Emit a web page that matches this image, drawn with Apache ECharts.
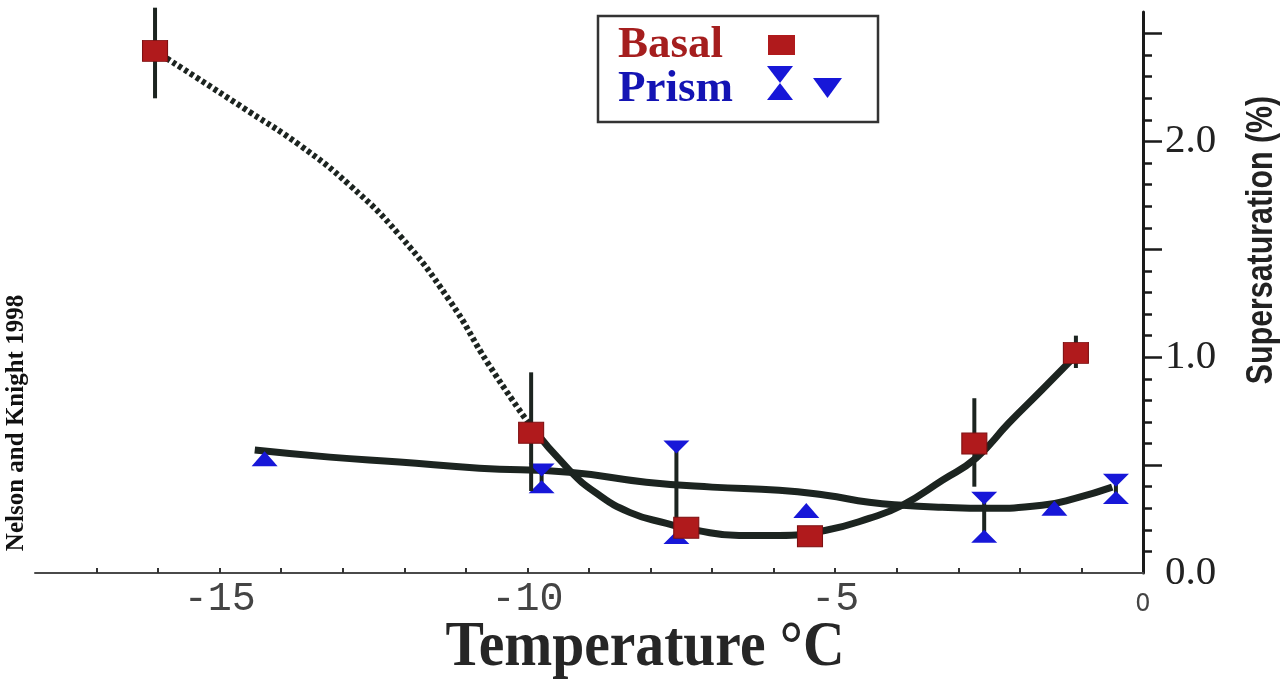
<!DOCTYPE html>
<html>
<head>
<meta charset="UTF-8">
<title>Supersaturation vs Temperature</title>
<script src="https://cdn.jsdelivr.net/npm/echarts@6/dist/echarts.min.js"></script>
</head>
<body style="margin:0;background:#fff;">
<div id="container" style="width:1285px;height:681px;"></div>
<script>
// Basal face: measured points, error bars (null = no bar)
var basalX = [-16.05, -9.94, -7.42, -5.41, -2.74, -1.09];
var basalY = [2.42, 0.65, 0.21, 0.17, 0.60, 1.02];
var basalLow = [2.20, 0.38, null, null, 0.40, 0.95];
var basalHigh = [2.62, 0.93, null, null, 0.81, 1.10];

// Prism face: single points (up triangles)
var prismX = [-14.27, -5.47, -1.44];
var prismY = [0.53, 0.29, 0.30];
// Prism face: ranges (down triangle on top, up triangle below)
var prismRangeX = [-9.77, -7.58, -2.58, -0.44];
var prismRangeLow = [0.40, 0.165, 0.17, 0.35];
var prismRangeHigh = [0.477, 0.584, 0.347, 0.43];

// hand fitted curves
var basalDashX = [-16.05, -14.51, -13.70, -12.89, -12.08, -11.27, -10.62, -9.97];
var basalDashY = [2.42, 2.136, 1.983, 1.798, 1.566, 1.265, 0.962, 0.69];
var basalFitX = [-9.97, -9.32, -8.88, -8.34, -7.74, -7.26, -6.56, -5.91, -5.15, -4.45, -3.91, -3.26, -2.71, -2.18, -1.64, -1.05];
var basalFitY = [0.69, 0.477, 0.370, 0.281, 0.230, 0.198, 0.174, 0.174, 0.198, 0.253, 0.314, 0.430, 0.533, 0.695, 0.849, 1.02];
var prismFitX = [-14.43, -13.21, -12.08, -10.78, -9.32, -8.07, -7.00, -5.91, -5.15, -4.45, -3.91, -3.26, -2.55, -1.64, -1.09, -0.50];
var prismFitY = [0.570, 0.537, 0.514, 0.486, 0.467, 0.421, 0.398, 0.384, 0.360, 0.328, 0.314, 0.305, 0.300, 0.314, 0.347, 0.398];

// axis ticks
var xMinorTicks = [-17, -16, -15, -14, -13, -12, -11, -10, -9, -8, -7, -6, -5, -4, -3, -2, -1];
var xLabels = [-15, -10, -5, 0];
var yMinorTicks = [0.1, 0.2, 0.3, 0.4, 0.6, 0.7, 0.8, 0.9, 1.1, 1.2, 1.3, 1.4, 1.6, 1.7, 1.8, 1.9, 2.1, 2.2, 2.3, 2.4];
var yMajorTicks = [0.5, 1.0, 1.5, 2.0, 2.5];
var yLabels = [0, 1, 2];

var RED = '#b01a1c';
var BLUE = '#1717d8';
var INK = '#1c2420';

function pairs(xs, ys) {
  return xs.map(function (x, i) { return [x, ys[i]]; });
}

var basalBars = [];
basalX.forEach(function (x, i) {
  if (basalLow[i] !== null) basalBars.push([x, basalLow[i], basalHigh[i]]);
});
var prismBars = prismRangeX.map(function (x, i) {
  return [x, prismRangeLow[i], prismRangeHigh[i]];
});

function barRender(params, api) {
  var lo = api.coord([api.value(0), api.value(1)]);
  var hi = api.coord([api.value(0), api.value(2)]);
  return {
    type: 'line',
    shape: { x1: lo[0], y1: lo[1], x2: hi[0], y2: hi[1] },
    style: { stroke: INK, lineWidth: 4 }
  };
}

var dom = document.getElementById('container');
var myChart = echarts.init(dom);

var option = {
  animation: false,
  backgroundColor: '#fff',
  grid: { left: 35, right: 142, top: 12, bottom: 108 },
  xAxis: {
    type: 'value',
    min: -18,
    max: 0,
    axisLine: { show: true, onZero: false, lineStyle: { color: '#4a4a4a', width: 2 } },
    axisTick: { show: true, inside: true, length: 5, customValues: xMinorTicks, lineStyle: { color: '#333', width: 2 } },
    axisLabel: {
      customValues: xLabels,
      margin: 6,
      color: '#444',
      fontFamily: 'Liberation Mono',
      fontSize: 40,
      formatter: function (v) { return v === 0 ? '{s|0}' : String(v); },
      rich: { s: { fontFamily: 'DejaVu Sans', fontSize: 24, color: '#444', padding: [14, 0, 0, 0] } }
    },
    splitLine: { show: false }
  },
  yAxis: [
    {
      type: 'value',
      position: 'right',
      min: 0,
      max: 2.6,
      axisLine: { show: true, lineStyle: { color: '#1a1a1a', width: 3 } },
      axisTick: { show: true, length: 9, customValues: yMinorTicks, lineStyle: { color: '#1a1a1a', width: 2.5 } },
      axisLabel: {
        customValues: yLabels,
        margin: 22,
        color: '#222',
        fontFamily: 'Liberation Serif',
        fontSize: 41,
        formatter: function (v) { return v.toFixed(1); }
      },
      splitLine: { show: false }
    },
    {
      type: 'value',
      position: 'right',
      min: 0,
      max: 2.6,
      axisLine: { show: false },
      axisTick: { show: true, length: 19, customValues: yMajorTicks, lineStyle: { color: '#1a1a1a', width: 2.5 } },
      axisLabel: { show: false },
      splitLine: { show: false }
    }
  ],
  series: [
    {
      type: 'line',
      data: pairs(basalDashX, basalDashY),
      smooth: 0.5,
      showSymbol: false,
      lineStyle: { color: INK, width: 6, type: [4, 3] },
      z: 2
    },
    {
      type: 'line',
      data: pairs(basalFitX, basalFitY),
      smooth: 0.5,
      showSymbol: false,
      lineStyle: { color: INK, width: 7 },
      z: 2
    },
    {
      type: 'line',
      data: pairs(prismFitX, prismFitY),
      smooth: 0.5,
      showSymbol: false,
      lineStyle: { color: INK, width: 7 },
      z: 2
    },
    {
      type: 'custom',
      data: prismBars,
      renderItem: barRender,
      z: 3
    },
    {
      type: 'scatter',
      data: pairs(prismX, prismY),
      symbol: 'triangle',
      symbolSize: [26, 15],
      itemStyle: { color: BLUE, opacity: 1 },
      z: 4
    },
    {
      type: 'scatter',
      data: pairs(prismRangeX, prismRangeHigh),
      symbol: 'triangle',
      symbolRotate: 180,
      symbolSize: [26, 13],
      itemStyle: { color: BLUE, opacity: 1 },
      z: 4
    },
    {
      type: 'scatter',
      data: pairs(prismRangeX, prismRangeLow),
      symbol: 'triangle',
      symbolSize: [26, 13],
      itemStyle: { color: BLUE, opacity: 1 },
      z: 4
    },
    {
      type: 'custom',
      data: basalBars,
      renderItem: barRender,
      z: 5
    },
    {
      type: 'scatter',
      data: pairs(basalX, basalY),
      symbol: 'rect',
      symbolSize: [25, 21],
      itemStyle: { color: RED, borderColor: '#7e1012', borderWidth: 1, opacity: 1 },
      z: 6
    }
  ],
  graphic: [
    {
      type: 'text',
      x: 645, y: 648,
      scaleX: 0.9,
      style: { text: 'Temperature °C', fill: '#262626', font: 'bold 64px "Liberation Serif"', align: 'center', verticalAlign: 'middle' }
    },
    {
      type: 'text',
      x: 1262, y: 240,
      rotation: Math.PI / 2,
      scaleX: 0.82,
      style: { text: 'Supersaturation (%)', fill: '#222', font: 'bold 37px "Liberation Sans"', align: 'center', verticalAlign: 'middle' }
    },
    {
      type: 'text',
      x: 17, y: 423,
      rotation: Math.PI / 2,
      style: { text: 'Nelson and Knight 1998', fill: '#111', font: 'bold 25px "Liberation Serif"', align: 'center', verticalAlign: 'middle' }
    },
    {
      type: 'group',
      children: [
        { type: 'rect', shape: { x: 598, y: 16, width: 280, height: 106 }, style: { fill: '#fff', stroke: '#333', lineWidth: 2.5 } },
        { type: 'text', x: 618, y: 45, style: { text: 'Basal', fill: '#a51e1e', font: 'bold 45px "Liberation Serif"', align: 'left', verticalAlign: 'middle' } },
        { type: 'text', x: 618, y: 89, style: { text: 'Prism', fill: '#1414b4', font: 'bold 45px "Liberation Serif"', align: 'left', verticalAlign: 'middle' } },
        { type: 'rect', shape: { x: 768, y: 35, width: 27, height: 20 }, style: { fill: RED } },
        { type: 'polygon', shape: { points: [[767, 66], [793, 66], [780, 83]] }, style: { fill: BLUE } },
        { type: 'polygon', shape: { points: [[767, 100], [793, 100], [780, 83]] }, style: { fill: BLUE } },
        { type: 'polygon', shape: { points: [[813, 78], [842, 78], [827.5, 98]] }, style: { fill: BLUE } }
      ]
    }
  ]
};

myChart.setOption(option);
</script>
</body>
</html>
